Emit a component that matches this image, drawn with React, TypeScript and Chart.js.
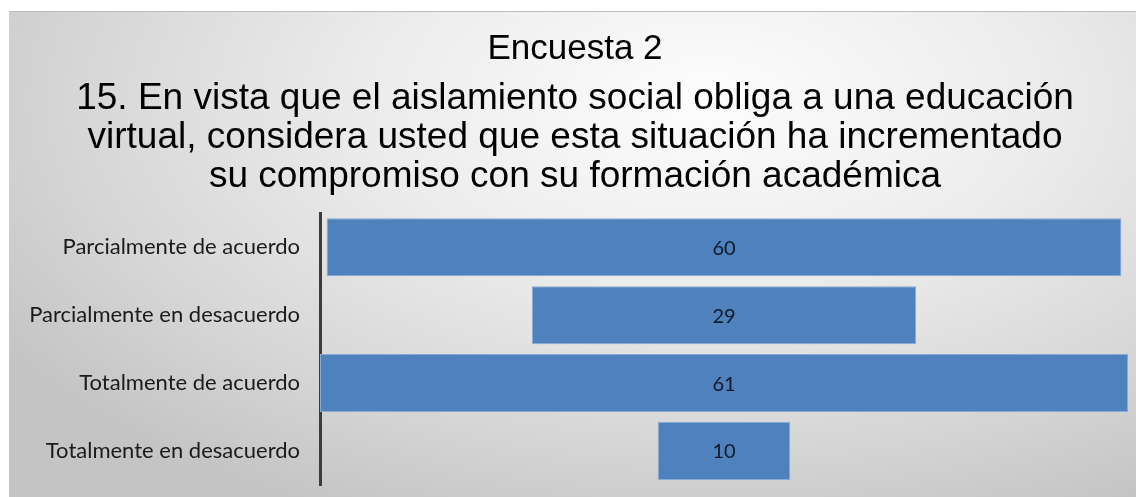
import React, { useEffect, useRef } from "react";
import { Chart, registerables } from "chart.js";

Chart.register(...registerables);

const categories = [
  "Parcialmente de acuerdo",
  "Parcialmente en desacuerdo",
  "Totalmente de acuerdo",
  "Totalmente en desacuerdo",
];
const values = [60, 29, 61, 10];
const titleText = "Encuesta 2";
const subtitleLines = [
  "15. En vista que el aislamiento social obliga a una educación",
  "virtual, considera usted que esta situación ha incrementado",
  "su compromiso con su formación académica",
];

const maxValue = Math.max(...values);
const center = 30.5;
const padLeft = 22;

const dataLabelPlugin = {
  id: "dataLabels",
  afterDatasetsDraw(chart: any) {
    const ctx = chart.ctx;
    const meta = chart.getDatasetMeta(0);
    ctx.save();
    ctx.font = "20px Lato";
    ctx.fillStyle = "#111a2b";
    ctx.textAlign = "center";
    ctx.textBaseline = "middle";
    meta.data.forEach((bar: any, i: number) => {
      const x = (bar.x + bar.base) / 2;
      ctx.fillText(String(values[i]), x, bar.y + 1);
    });
    ctx.restore();
  },
};

export default function App() {
  const ref = useRef<HTMLCanvasElement>(null);
  useEffect(() => {
    if (!ref.current) return;
    const chart = new Chart(ref.current, {
      type: "bar",
      data: {
        labels: categories,
        datasets: [
          {
            data: values.map((v) => [center - v / 2, center + v / 2]) as any,
            backgroundColor: "#4f81bd",
            borderColor: "#86a9d6",
            borderWidth: 1,
            borderSkipped: false,
            barPercentage: 0.853,
            categoryPercentage: 1,
          },
        ],
      },
      options: {
        indexAxis: "y",
        animation: false,
        responsive: false,
        layout: { padding: { left: padLeft, right: 8, bottom: 12, top: 0 } },
        plugins: {
          legend: { display: false },
          tooltip: { enabled: false },
          title: {
            display: true,
            text: titleText,
            color: "#000",
            font: { family: "'Liberation Sans', Arial", size: 35, weight: "normal", lineHeight: 1.15 },
            padding: { top: 29, bottom: 10 },
          },
          subtitle: {
            display: true,
            text: subtitleLines,
            color: "#000",
            font: { family: "'Liberation Sans', Arial", size: 37, weight: "normal", lineHeight: "39px" as any },
            padding: { top: 0, bottom: 17 },
          },
        },
        scales: {
          x: {
            display: false,
            min: 0,
            max: maxValue + 0,
          },
          y: {
            grid: { display: false, drawTicks: false },
            border: { display: true, color: "#3c3c3c", width: 3 },
            ticks: {
              color: "#1a1a1a",
              font: { family: "Lato", size: 22 },
              padding: 20,
            },
            afterFit: (scale: any) => {
              scale.width = 320 - padLeft;
              scale.paddingTop = 0;
              scale.paddingBottom = 0;
            },
          },
        },
      },
      plugins: [dataLabelPlugin],
    });
    return () => chart.destroy();
  }, []);

  return (
    <div
      style={{
        position: "fixed",
        left: 0,
        top: 0,
        width: 1136,
        height: 497,
        background: "#ffffff",
        overflow: "hidden",
      }}
    >
      <div
        style={{
          position: "absolute",
          left: 9,
          top: 11,
          right: 0,
          bottom: 0,
          borderTop: "1px solid #bdbdbd",
          background:
            "radial-gradient(ellipse 75% 95% at 62% 18%, #fdfdfd 0%, #ececec 40%, #d6d6d6 75%, #c4c4c4 100%)",
        }}
      />
      <canvas
        ref={ref}
        width={1136}
        height={497}
        style={{ position: "absolute", left: 0, top: 0 }}
      />
    </div>
  );
}
